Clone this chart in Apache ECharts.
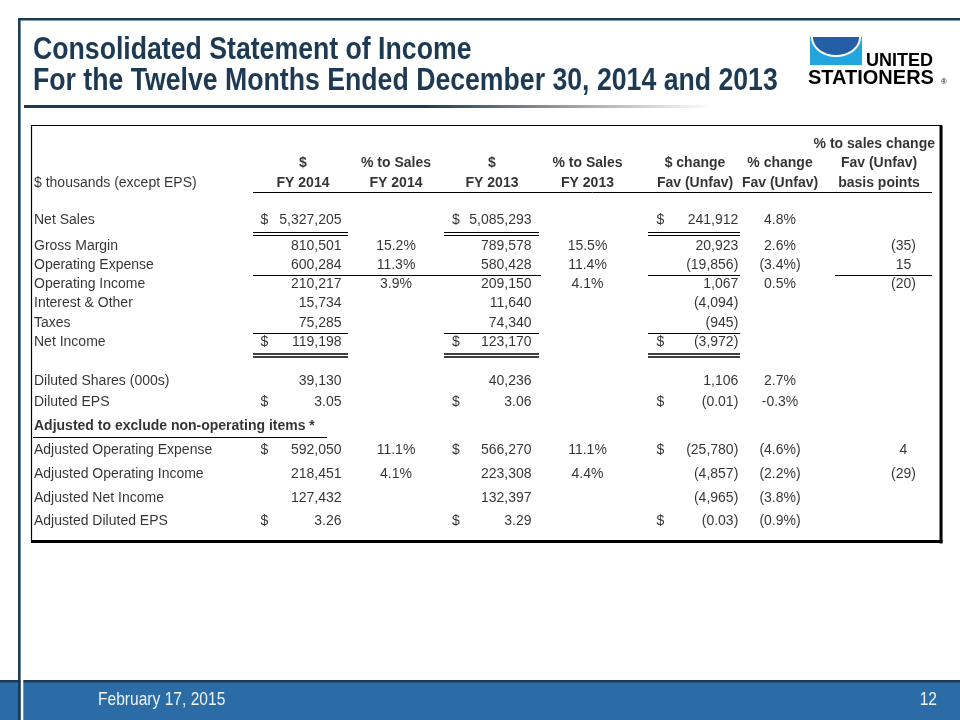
<!DOCTYPE html>
<html><head><meta charset="utf-8">
<script src="https://cdn.jsdelivr.net/npm/echarts@6/dist/echarts.min.js"></script>
<style>html,body{margin:0;padding:0;background:#fff}#c{width:960px;height:720px}</style>
</head><body><div id="c"></div>
<script>
// ---------------- DATA ----------------
const titleLines = ['Consolidated Statement of Income', 'For the Twelve Months Ended December 30, 2014 and 2013'];
const footerDate = 'February 17, 2015';
const pageNumber = '12';
const unitLabel = '$ thousands (except EPS)';
const headerTop = '% to sales change';
const headerMid = ['$', '% to Sales', '$', '% to Sales', '$ change', '% change', 'Fav (Unfav)'];
const headerBottom = ['FY 2014', 'FY 2014', 'FY 2013', 'FY 2013', 'Fav (Unfav)', 'Fav (Unfav)', 'basis points'];
const rowLabels = ['Net Sales', 'Gross Margin', 'Operating Expense', 'Operating Income', 'Interest & Other', 'Taxes', 'Net Income',
  'Diluted Shares (000s)', 'Diluted EPS', 'Adjusted to exclude non-operating items *',
  'Adjusted Operating Expense', 'Adjusted Operating Income', 'Adjusted Net Income', 'Adjusted Diluted EPS'];
const fy2014 = [5327205, 810501, 600284, 210217, 15734, 75285, 119198, 39130, 3.05, null, 592050, 218451, 127432, 3.26];
const pctSales2014 = [null, 15.2, 11.3, 3.9, null, null, null, null, null, null, 11.1, 4.1, null, null];
const fy2013 = [5085293, 789578, 580428, 209150, 11640, 74340, 123170, 40236, 3.06, null, 566270, 223308, 132397, 3.29];
const pctSales2013 = [null, 15.5, 11.4, 4.1, null, null, null, null, null, null, 11.1, 4.4, null, null];
const dollarChange = [241912, 20923, -19856, 1067, -4094, -945, -3972, 1106, -0.01, null, -25780, -4857, -4965, -0.03];
const pctChange = [4.8, 2.6, -3.4, 0.5, null, null, null, 2.7, -0.3, null, -4.6, -2.2, -3.8, -0.9];
const bpChange = [null, -35, 15, -20, null, null, null, null, null, null, 4, -29, null, null];
const dollarRows = ['Net Sales', 'Net Income', 'Diluted EPS', 'Adjusted Operating Expense', 'Adjusted Diluted EPS'];
const epsRows = ['Diluted EPS', 'Adjusted Diluted EPS'];
const minusSignRows = ['Diluted EPS'];
const sectionRow = 'Adjusted to exclude non-operating items *';

// ---------------- LAYOUT ----------------
const NAVY = '#1d3a55';
const BODY_FONT = '"Liberation Sans", Arial, sans-serif';
const L = {
  rowY: [220, 246, 265.5, 284.5, 303.5, 323, 342.5, 381, 402.5, 426, 450.5, 474.5, 498.5, 521.5],
  headerY: [144, 163.5, 183.5],
  labelX: 34,
  headerCenters: [303, 396, 492, 587.5, 695, 780, 879],
  headerTopRight: 935,
  dollar14X: 260.5, value14R: 341.5, pct14C: 396,
  dollar13X: 452, value13R: 531.5, pct13C: 587.5,
  dollarChX: 656.5, valueChR: 738.3, parenW: 6, pctChC: 780, bpC: 903.5
};
const rules = [
  // [x0, x1, y, width]
  [253, 932, 192.5, 1],
  [253, 348, 232.5, 1], [253, 348, 235.5, 1], [444, 539, 232.5, 1], [444, 539, 235.5, 1], [648, 740, 232.5, 1], [648, 740, 235.5, 1],
  [253, 541, 275.5, 1], [648, 740, 275.5, 1], [835, 932, 275.5, 1],
  [253, 348, 333.5, 1], [444, 539, 333.5, 1], [648, 740, 333.5, 1],
  [253, 348, 353.5, 1.5], [253, 348, 357, 1.5], [444, 539, 353.5, 1.5], [444, 539, 357, 1.5], [648, 740, 353.5, 1.5], [648, 740, 357, 1.5],
  [33, 327, 437, 1]
];

// ---------------- FORMAT ----------------
function fmtNum(v, dec) {
  if (v == null) return '';
  const s = Math.abs(v).toLocaleString('en-US', { minimumFractionDigits: dec, maximumFractionDigits: dec });
  return v < 0 ? '(' + s + ')' : s;
}
function fmtPct(v, minus) {
  if (v == null) return '';
  const s = Math.abs(v).toFixed(1) + '%';
  if (v < 0) return minus ? '-' + s : '(' + s + ')';
  return s;
}
function textSeries(items, align, bold) {
  return {
    type: 'scatter', symbolSize: 0, silent: true, animation: false,
    data: items.filter(it => it.text !== '').map(it => ({
      value: [it.x, it.y], text: it.text,
      label: it.dx ? { offset: [it.dx, 0] } : undefined
    })),
    label: {
      show: true, position: 'inside', align: align, verticalAlign: 'middle',
      formatter: p => p.data.text, color: '#000', fontSize: 14,
      fontFamily: BODY_FONT, fontWeight: bold ? 'bold' : 'normal'
    },
    labelLayout: { hideOverlap: false }
  };
}
function halfEllipse(cx, cy, rx, ry, n) {
  const pts = [];
  for (let k = 0; k <= n; k++) {
    const a = Math.PI * k / n;
    pts.push([cx - rx * Math.cos(a), cy + ry * Math.sin(a)]);
  }
  return pts;
}

const labelItems = [], sectionItems = [], dollarItems = [], v14 = [], p14 = [], v13 = [], p13 = [], vch = [], pch = [], bps = [];
rowLabels.forEach((name, i) => {
  const y = L.rowY[i];
  const isEps = epsRows.includes(name);
  const dec = isEps ? 2 : 0;
  if (name === sectionRow) sectionItems.push({ x: L.labelX, y, text: name });
  else labelItems.push({ x: L.labelX, y, text: name });
  if (dollarRows.includes(name)) {
    dollarItems.push({ x: L.dollar14X, y, text: '$' }, { x: L.dollar13X, y, text: '$' }, { x: L.dollarChX, y, text: '$' });
  }
  v14.push({ x: L.value14R, y, text: fmtNum(fy2014[i], dec) });
  v13.push({ x: L.value13R, y, text: fmtNum(fy2013[i], dec) });
  const ch = dollarChange[i];
  vch.push({ x: L.valueChR, y, text: fmtNum(ch, dec), dx: (ch != null && ch >= 0) ? -L.parenW : 0 });
  p14.push({ x: L.pct14C, y, text: fmtPct(pctSales2014[i]) });
  p13.push({ x: L.pct13C, y, text: fmtPct(pctSales2013[i]) });
  pch.push({ x: L.pctChC, y, text: fmtPct(pctChange[i], minusSignRows.includes(name)) });
  bps.push({ x: L.bpC, y, text: fmtNum(bpChange[i], 0) });
});
const headerItems = [];
headerMid.forEach((t, i) => headerItems.push({ x: L.headerCenters[i], y: L.headerY[1], text: t }));
headerBottom.forEach((t, i) => headerItems.push({ x: L.headerCenters[i], y: L.headerY[2], text: t }));

const chart = echarts.init(document.getElementById('c'), null, { renderer: 'canvas' });
chart.setOption({
  animation: false,
  backgroundColor: '#ffffff',
  grid: { left: 0, right: 0, top: 0, bottom: 0 },
  xAxis: { type: 'value', min: 0, max: 960, show: false },
  yAxis: { type: 'value', min: 0, max: 720, inverse: true, show: false },
  series: [
    textSeries(labelItems, 'left', false),
    textSeries(sectionItems, 'left', true),
    textSeries([{ x: L.labelX, y: L.headerY[2], text: unitLabel }], 'left', false),
    textSeries([{ x: L.headerTopRight, y: L.headerY[0], text: headerTop }], 'right', true),
    textSeries(headerItems, 'center', true),
    textSeries(dollarItems, 'left', false),
    textSeries(v14, 'right', false),
    textSeries(p14, 'center', false),
    textSeries(v13, 'right', false),
    textSeries(p13, 'center', false),
    textSeries(vch, 'right', false),
    textSeries(pch, 'center', false),
    textSeries(bps, 'center', false),
    {
      type: 'lines', coordinateSystem: 'cartesian2d', polyline: false, silent: true, animation: false,
      lineStyle: { color: '#000', opacity: 1 },
      data: rules.map(r => ({ coords: [[r[0], r[2]], [r[1], r[2]]], lineStyle: { width: r[3] } }))
    }
  ],
  graphic: [
    // frame
    { type: 'rect', shape: { x: 18, y: 18, width: 942, height: 2.6 }, style: { fill: NAVY }, silent: true },
    { type: 'rect', shape: { x: 18, y: 18, width: 2.6, height: 702 }, style: { fill: NAVY }, silent: true, z: 5 },
    // title
    { type: 'text', x: 33, y: 50, scaleX: 0.86, style: { text: titleLines[0], fill: NAVY, font: 'bold 31px ' + BODY_FONT, verticalAlign: 'middle' }, silent: true },
    { type: 'text', x: 33, y: 81, scaleX: 0.86, style: { text: titleLines[1], fill: NAVY, font: 'bold 31px ' + BODY_FONT, verticalAlign: 'middle' }, silent: true },
    {
      type: 'rect', shape: { x: 24, y: 105, width: 690, height: 3 }, silent: true,
      style: { fill: new echarts.graphic.LinearGradient(0, 0, 1, 0, [
        { offset: 0, color: NAVY }, { offset: 0.58, color: NAVY }, { offset: 0.78, color: '#9a9a9a' }, { offset: 1, color: '#ffffff' }]) }
    },
    // logo
    { type: 'rect', shape: { x: 810, y: 37, width: 52, height: 28 }, style: { fill: '#22a6df' }, silent: true },
    { type: 'polygon', shape: { points: halfEllipse(836, 37, 25, 20, 40) }, style: { fill: '#ffffff' }, silent: true },
    { type: 'polygon', shape: { points: halfEllipse(836, 37, 23, 18, 40) }, style: { fill: '#245ea6' }, silent: true },
    { type: 'text', x: 866, y: 61, style: { text: 'UNITED', fill: '#000', font: 'bold 18px ' + BODY_FONT, verticalAlign: 'middle' }, silent: true },
    { type: 'text', x: 808, y: 78, style: { text: 'STATIONERS', fill: '#000', font: 'bold 20px ' + BODY_FONT, verticalAlign: 'middle' }, silent: true },
    { type: 'text', x: 941, y: 82, style: { text: '®', fill: '#000', font: '8px ' + BODY_FONT, verticalAlign: 'middle' }, silent: true },
    // table box
    { type: 'rect', shape: { x: 31.5, y: 125.5, width: 910, height: 416 }, style: { fill: null, stroke: '#000', lineWidth: 1.2 }, silent: true },
    { type: 'rect', shape: { x: 939.5, y: 125.5, width: 3, height: 418 }, style: { fill: '#000' }, silent: true },
    { type: 'rect', shape: { x: 31, y: 540, width: 911.5, height: 3 }, style: { fill: '#000' }, silent: true },
    // footer
    { type: 'rect', shape: { x: 0, y: 682, width: 960, height: 38 }, style: { fill: '#2b6ca7' }, silent: true },
    { type: 'rect', shape: { x: 0, y: 680, width: 960, height: 2.6 }, style: { fill: NAVY }, silent: true },
    { type: 'rect', shape: { x: 20.6, y: 680, width: 2.7, height: 40 }, style: { fill: '#ffffff' }, silent: true, z: 4 },
    { type: 'text', x: 98, y: 700, scaleX: 0.82, style: { text: footerDate, fill: '#eef3f8', font: '19px ' + BODY_FONT, verticalAlign: 'middle' }, silent: true },
    { type: 'text', x: 937, y: 700, scaleX: 0.82, style: { text: pageNumber, fill: '#eef3f8', font: '19px ' + BODY_FONT, verticalAlign: 'middle', align: 'right' }, silent: true }
  ]
});
</script>
</body></html>
